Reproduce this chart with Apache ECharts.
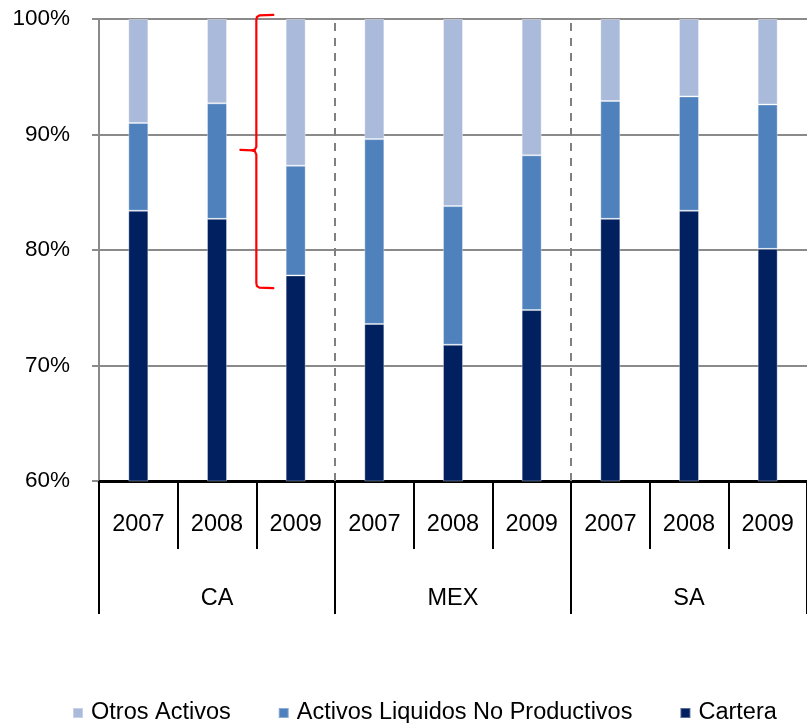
<!DOCTYPE html>
<html>
<head>
<meta charset="utf-8">
<script src="https://cdn.jsdelivr.net/npm/echarts@6/dist/echarts.min.js"></script>
<style>
  html, body { margin: 0; padding: 0; background: #fff; }
  #chart { width: 807px; height: 723px; }
</style>
</head>
<body>
<div id="chart"></div>
<script>
// Asset composition by region and year (share of total assets, %)
const regions = ['CA', 'MEX', 'SA'];
const years = ['2007', '2008', '2009', '2007', '2008', '2009', '2007', '2008', '2009'];
const cartera = [83.4, 82.7, 77.8, 73.6, 71.8, 74.8, 82.7, 83.4, 80.1];
const activosLiquidos = [7.6, 10.0, 9.5, 16.0, 12.0, 13.4, 10.2, 9.9, 12.5];
const otrosActivos = [9.0, 7.3, 12.7, 10.4, 16.2, 11.8, 7.1, 6.7, 7.4];
const yTicks = [60, 70, 80, 90, 100];

const FONT = '"Liberation Sans", Arial, sans-serif';
const chart = echarts.init(document.getElementById('chart'), null, { renderer: 'canvas' });

const barBase = {
  type: 'bar',
  stack: 'total',
  barWidth: 20,
  xAxisIndex: 0,
  yAxisIndex: 0,
  silent: true
};
const edge = { borderColor: 'rgba(255,255,255,0.35)', borderWidth: 1 };

chart.setOption({
  animation: false,
  textStyle: { fontFamily: FONT },
  grid: { left: 99, right: 0, top: 19, bottom: 242, containLabel: false },
  legend: {
    left: 67,
    top: 696,
    itemWidth: 10,
    itemHeight: 10,
    itemGap: 47,
    icon: 'rect',
    textStyle: { fontSize: 23.5, color: '#000', fontFamily: FONT, padding: [0, 0, 0, 3] },
    data: ['Otros Activos', 'Activos Liquidos No Productivos', 'Cartera']
  },
  xAxis: [
    {
      type: 'category',
      data: years,
      position: 'bottom',
      axisLine: { show: true, lineStyle: { color: '#000', width: 3 } },
      axisTick: { show: true, interval: 0, length: 68, lineStyle: { color: '#000', width: 2 } },
      axisLabel: { interval: 0, margin: 32, fontSize: 23.5, color: '#000', fontFamily: FONT },
      splitLine: { show: false }
    },
    {
      type: 'category',
      data: regions,
      position: 'bottom',
      axisLine: { show: false },
      axisTick: { show: true, interval: 0, length: 133, lineStyle: { color: '#000', width: 2 } },
      axisLabel: { interval: 0, margin: 106, fontSize: 23.5, color: '#000', fontFamily: FONT },
      splitLine: { show: false }
    },
    {
      // positional scale across the nine bars, used for the region separators
      type: 'value',
      min: 0,
      max: years.length,
      show: false
    }
  ],
  yAxis: {
    type: 'value',
    min: yTicks[0],
    max: yTicks[yTicks.length - 1],
    interval: 10,
    axisLine: { show: true, lineStyle: { color: '#8a8a8a', width: 2 } },
    axisTick: { show: true, length: 7, lineStyle: { color: '#8a8a8a', width: 2 } },
    axisLabel: { formatter: '{value}%', fontSize: 22.5, color: '#000', margin: 29, fontFamily: FONT },
    splitLine: { show: true, lineStyle: { color: '#8a8a8a', width: 2 } }
  },
  series: [
    Object.assign({}, barBase, { name: 'Cartera', data: cartera, itemStyle: Object.assign({ color: '#00205F' }, edge) }),
    Object.assign({}, barBase, { name: 'Activos Liquidos No Productivos', data: activosLiquidos, itemStyle: Object.assign({ color: '#4F81BD' }, edge) }),
    Object.assign({}, barBase, { name: 'Otros Activos', data: otrosActivos, itemStyle: Object.assign({ color: '#AABADA' }, edge) }),
    {
      // dashed separators between regions
      name: 'separators',
      type: 'line',
      xAxisIndex: 2,
      yAxisIndex: 0,
      data: [],
      silent: true,
      markLine: {
        silent: true,
        symbol: ['none', 'none'],
        label: { show: false },
        lineStyle: { color: '#808080', type: [8, 7], width: 2 },
        data: [{ xAxis: 3 }, { xAxis: 6 }]
      }
    }
  ]
});

// Red curly brace next to the CA 2009 bar
function drawBrace() {
  const xb = chart.convertToPixel({ xAxisIndex: 2 }, 2);
  const yT = chart.convertToPixel({ yAxisIndex: 0 }, 100.35);
  const yM = chart.convertToPixel({ yAxisIndex: 0 }, 88.6);
  const yB = chart.convertToPixel({ yAxisIndex: 0 }, 76.7);
  const style = { fill: null, stroke: '#FF0000', lineWidth: 2.2, lineJoin: 'round', lineCap: 'round' };
  chart.setOption({
    graphic: [
      {
        type: 'polyline',
        silent: true,
        z: 100,
        shape: { points: [
          [xb + 17, yT], [xb + 3, yT + 0.5], [xb + 0.6, yT + 2], [xb, yT + 5],
          [xb, yM - 4], [xb - 1.5, yM - 1], [xb - 4, yM - 0.3], [xb - 16, yM - 0.8]
        ] },
        style: style
      },
      {
        type: 'polyline',
        silent: true,
        z: 100,
        shape: { points: [
          [xb - 4, yM - 0.3], [xb - 1.5, yM + 0.5], [xb, yM + 4],
          [xb, yB - 5], [xb + 0.6, yB - 2], [xb + 3, yB - 0.5], [xb + 17, yB]
        ] },
        style: style
      }
    ]
  });
}
drawBrace();
</script>
</body>
</html>
